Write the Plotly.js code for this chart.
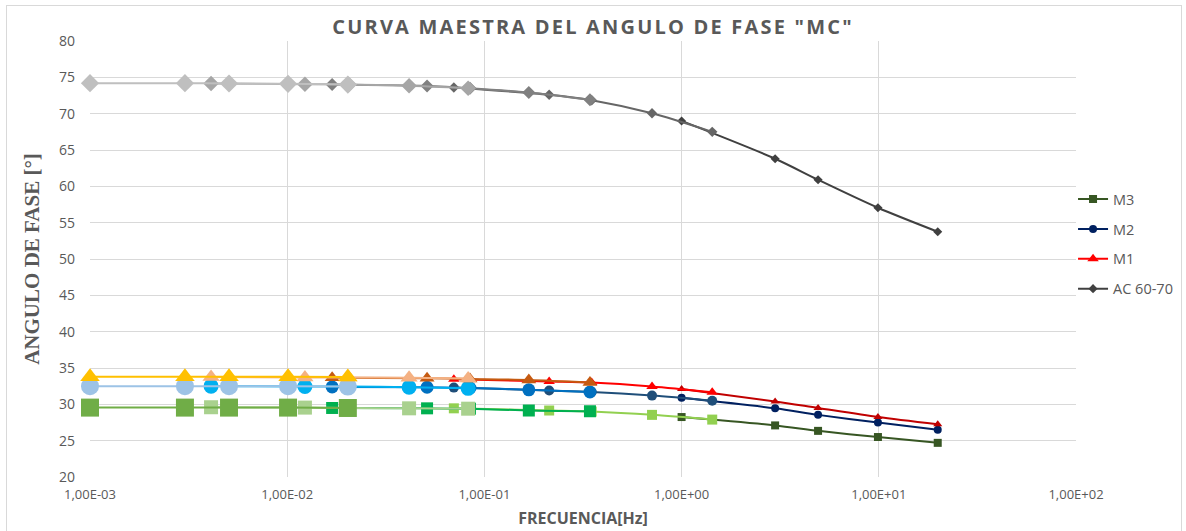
<!DOCTYPE html>
<html>
<head>
<meta charset="utf-8">
<script src="https://cdn.plot.ly/plotly-3.0.1.min.js"></script>
<style>
  html, body { margin: 0; padding: 0; background: #ffffff; overflow: hidden; }
  #chart { width: 1186px; height: 531px; position: absolute; left: 0; top: 0; }
  #frame { position: absolute; left: 6px; top: 5px; width: 1176px; height: 560px;
           border: 1px solid #d9d9d9; box-sizing: border-box; pointer-events: none; }
  #chart .gtitle { letter-spacing: 2.2px; }
</style>
</head>
<body>
<div id="chart"></div>
<div id="frame"></div>
<script>
// Shifted frequencies (Hz) of the five temperature groups
const freqG1 = [0.001, 0.00303, 0.00507, 0.0101, 0.0203];
const freqG2 = [0.00411, 0.0123, 0.0205, 0.0415, 0.0827];
const freqG3 = [0.0169, 0.0512, 0.0845, 0.168, 0.343];
const freqG4 = [0.070, 0.213, 0.350, 0.708, 1.43];
const freqG5 = [1.0, 2.98, 4.92, 9.9, 19.9];

// Phase angle (deg) – M1
const m1G1 = [33.8, 33.8, 33.8, 33.8, 33.75];
const m1G2 = [33.75, 33.7, 33.7, 33.65, 33.55];
const m1G3 = [33.65, 33.6, 33.5, 33.35, 33.0];
const m1G4 = [33.45, 33.15, 33.0, 32.45, 31.65];
const m1G5 = [32.1, 30.4, 29.5, 28.25, 27.25];

// M2
const m2G1 = [32.5, 32.5, 32.5, 32.5, 32.45];
const m2G2 = [32.5, 32.45, 32.45, 32.35, 32.2];
const m2G3 = [32.4, 32.35, 32.25, 32.0, 31.7];
const m2G4 = [32.3, 31.9, 31.7, 31.2, 30.5];
const m2G5 = [30.9, 29.45, 28.55, 27.5, 26.5];

// M3
const m3G1 = [29.55, 29.55, 29.55, 29.55, 29.5];
const m3G2 = [29.6, 29.55, 29.5, 29.45, 29.4];
const m3G3 = [29.5, 29.45, 29.4, 29.15, 29.05];
const m3G4 = [29.45, 29.15, 29.0, 28.55, 27.9];
const m3G5 = [28.25, 27.1, 26.35, 25.5, 24.7];

// AC 60-70
const acG1 = [74.2, 74.2, 74.15, 74.1, 74.0];
const acG2 = [74.15, 74.05, 74.0, 73.85, 73.5];
const acG3 = [74.0, 73.8, 73.5, 72.9, 71.9];
const acG4 = [73.6, 72.6, 71.85, 70.05, 67.5];
const acG5 = [69.0, 63.8, 60.9, 57.05, 53.75];

const seriesNames = ["M3", "M2", "M1", "AC 60-70"];
const xTickVals = [0.001, 0.01, 0.1, 1, 10, 100];
const xTickText = ["1,00E-03", "1,00E-02", "1,00E-01", "1,00E+00", "1,00E+01", "1,00E+02"];

const freqs = [freqG1, freqG2, freqG3, freqG4, freqG5];

const families = [
  { name: seriesNames[3], rank: 4, legendIdx: 4, symbol: "diamond",
    ys: [acG1, acG2, acG3, acG4, acG5],
    colors: ["#bfbfbf", "#a6a6a6", "#808080", "#666666", "#404040"],
    sizes: [14, 12, 10, 8, 7] },
  { name: seriesNames[0], rank: 1, legendIdx: 4, symbol: "square",
    ys: [m3G1, m3G2, m3G3, m3G4, m3G5],
    colors: ["#70ad47", "#a9d18e", "#00b050", "#92d050", "#375623"],
    sizes: [18, 14, 12, 10, 8] },
  { name: seriesNames[1], rank: 2, legendIdx: 4, symbol: "circle",
    ys: [m2G1, m2G2, m2G3, m2G4, m2G5],
    colors: ["#9dc3e6", "#00b0f0", "#0070c0", "#1f4e79", "#002060"],
    sizes: [18, 15, 13, 10, 8] },
  { name: seriesNames[2], rank: 3, legendIdx: 3, symbol: "triangle-up",
    ys: [m1G1, m1G2, m1G3, m1G4, m1G5],
    colors: ["#ffc000", "#f4b183", "#c55a11", "#ff0000", "#c00000"],
    sizes: [17, 15, 13, 10, 8] }
];

const traces = [];
families.forEach(fam => {
  for (let g = 4; g >= 0; g--) {
    const isLegend = (g === fam.legendIdx);
    traces.push({
      type: "scatter",
      mode: "lines+markers",
      x: freqs[g],
      y: fam.ys[g],
      name: fam.name,
      showlegend: isLegend,
      legendrank: fam.rank,
      legendgroup: fam.name,
      cliponaxis: false,
      line: { color: fam.colors[g], width: 2, shape: "spline", smoothing: 0.8 },
      marker: { symbol: fam.symbol, size: fam.sizes[g], color: fam.colors[g],
                line: { width: 0 } },
      hoverinfo: "x+y+name"
    });
  }
});

const layout = {
  width: 1186,
  height: 531,
  paper_bgcolor: "#ffffff",
  plot_bgcolor: "#ffffff",
  margin: { l: 90, r: 110, t: 41, b: 54, autoexpand: false },
  title: {
    text: "CURVA MAESTRA DEL ANGULO DE FASE \"MC\"",
    font: { family: "Open Sans", size: 20, color: "#595959", weight: 700 },
    x: 0.5, xref: "container", xanchor: "center",
    y: 1 - 27 / 531, yref: "container", yanchor: "middle"
  },
  xaxis: {
    type: "log",
    range: [-3, 2],
    tickvals: xTickVals,
    ticktext: xTickText,
    tickfont: { family: "Open Sans", size: 13, color: "#595959" },
    showgrid: true, gridcolor: "#d9d9d9", gridwidth: 1,
    zeroline: false, showline: false, ticks: "",
    ticklabelstandoff: 8,
    automargin: false,
    title: { text: "FRECUENCIA[Hz]", standoff: 10,
             font: { family: "Open Sans", size: 16, color: "#595959", weight: 700 } }
  },
  yaxis: {
    range: [20, 80],
    dtick: 5,
    tickfont: { family: "Open Sans", size: 14, color: "#595959" },
    showgrid: true, gridcolor: "#d9d9d9", gridwidth: 1,
    zeroline: false, showline: false, ticks: "",
    ticklabelstandoff: 14,
    automargin: false,
    title: { text: "ANGULO DE FASE [°]", standoff: 13,
             font: { family: "Liberation Serif", size: 21, color: "#595959", weight: 700 } }
  },
  legend: {
    x: 0.997, xanchor: "left",
    y: 0.534, yanchor: "middle",
    font: { family: "Open Sans", size: 14.5, color: "#595959" },
    bgcolor: "rgba(0,0,0,0)",
    traceorder: "grouped",
    tracegroupgap: 8,
    itemwidth: 30
  },
  showlegend: true
};

Plotly.newPlot("chart", traces, layout, { displayModeBar: false, staticPlot: true });
</script>
</body>
</html>
